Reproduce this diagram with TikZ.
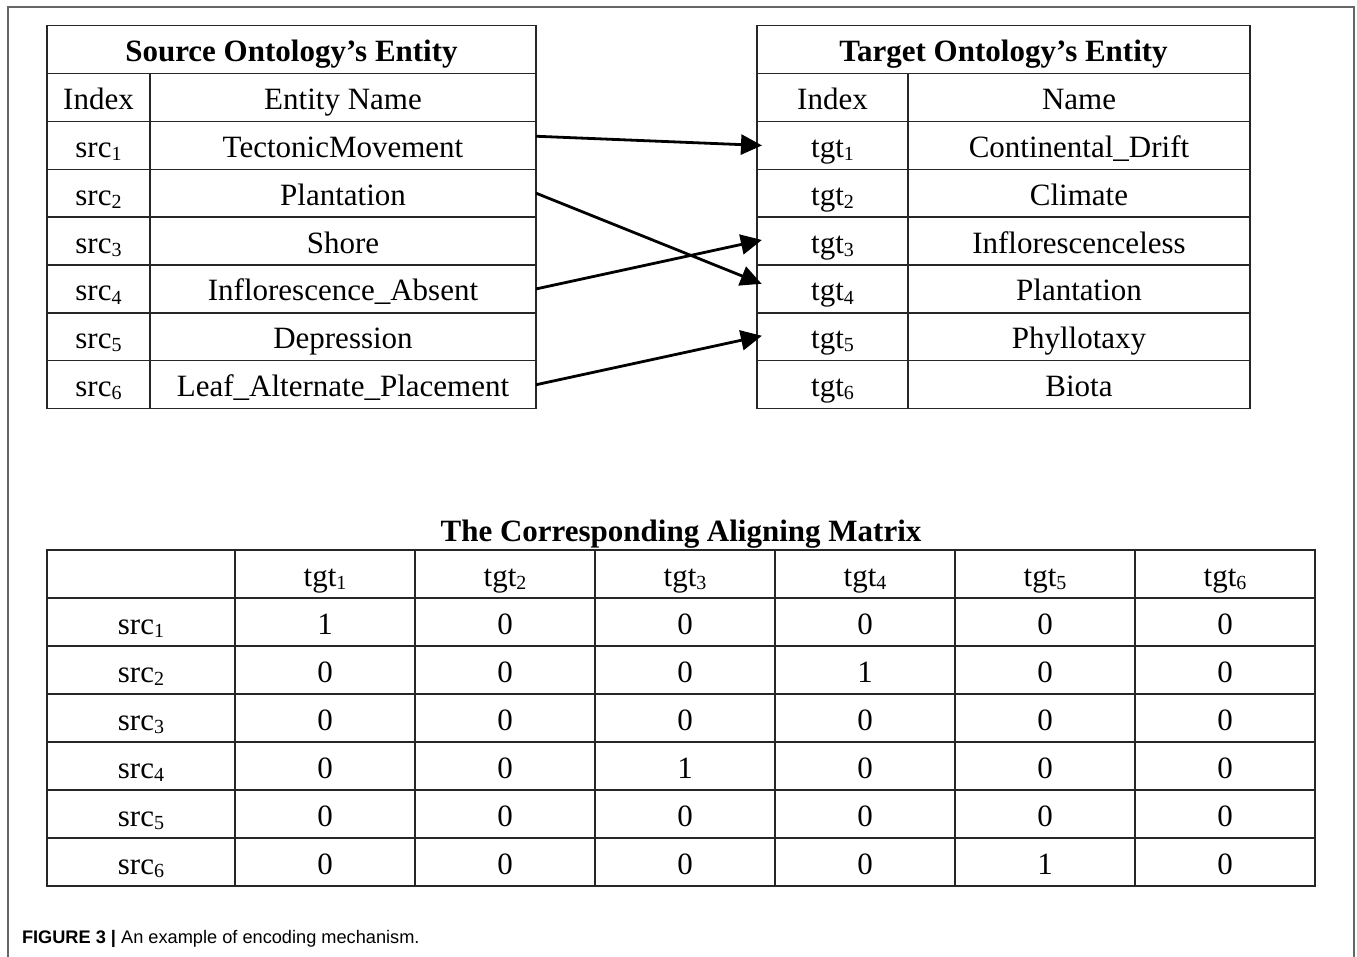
\documentclass[tikz,border=0pt]{standalone}
\usepackage{fontspec}
\setmainfont{Liberation Serif}
\newfontfamily\capfont{Liberation Sans}
\usetikzlibrary{arrows.meta}
\newcommand{\ix}[2]{#1\raisebox{-0.1em}{\fontsize{20}{20}\selectfont #2}}

\begin{document}
\begin{tikzpicture}[
        x=1pt, y=-1pt,                % pixel grid, y downwards
        every node/.style={
            inner sep=0pt,
            outer sep=0pt,
            font=\fontsize{31}{36}\selectfont,
            text height=28pt,
            text depth=4pt
        },
        cell/.style={draw=black!85, line width=1.3pt, minimum height=47.9pt},
        srchead/.style={cell, minimum width=489pt, font=\fontsize{31}{36}\selectfont\bfseries},
        tgthead/.style={cell, minimum width=493pt, font=\fontsize{31}{36}\selectfont\bfseries},
        srcidx/.style={cell, minimum width=103pt},
        srcname/.style={cell, minimum width=386pt},
        tgtidx/.style={cell, minimum width=151pt},
        tgtname/.style={cell, minimum width=342pt},
        rowhead/.style={cell, minimum width=188pt, minimum height=48pt},
        mcell/.style={cell, minimum width=180pt, minimum height=48pt},
        arrow/.style={-{Triangle[length=21pt,width=20pt]}, line width=2.8pt, shorten >=-5pt}
    ]
    \useasboundingbox (0,0) rectangle (1357,957);

    % frame
    \draw[black!60, line width=1.5pt] (8,957) -- (8,7) -- (1354,7) -- (1354,957);

    % source ontology
    \node[srchead] (shead) at (291.5,49.45) {Source Ontology's Entity};
    \node[srcidx] (sidx) at (98.5,97.35) {Index};
    \node[srcname] (sname) at (343,97.35) {Entity Name};
    \node[srcidx] (si1) at (98.5,145.25) {\ix{src}{1}};
    \node[srcname] (s1) at (343,145.25) {TectonicMovement};
    \node[srcidx] (si2) at (98.5,193.15) {\ix{src}{2}};
    \node[srcname] (s2) at (343,193.15) {Plantation};
    \node[srcidx] (si3) at (98.5,241.05) {\ix{src}{3}};
    \node[srcname] (s3) at (343,241.05) {Shore};
    \node[srcidx] (si4) at (98.5,288.95) {\ix{src}{4}};
    \node[srcname] (s4) at (343,288.95) {Inflorescence\_Absent};
    \node[srcidx] (si5) at (98.5,336.85) {\ix{src}{5}};
    \node[srcname] (s5) at (343,336.85) {Depression};
    \node[srcidx] (si6) at (98.5,384.75) {\ix{src}{6}};
    \node[srcname] (s6) at (343,384.75) {Leaf\_Alternate\_Placement};

    % target ontology
    \node[tgthead] (thead) at (1003.5,49.45) {Target Ontology's Entity};
    \node[tgtidx] (tidx) at (832.5,97.35) {Index};
    \node[tgtname] (tname) at (1079,97.35) {Name};
    \node[tgtidx] (ti1) at (832.5,145.25) {\ix{tgt}{1}};
    \node[tgtname] (t1) at (1079,145.25) {Continental\_Drift};
    \node[tgtidx] (ti2) at (832.5,193.15) {\ix{tgt}{2}};
    \node[tgtname] (t2) at (1079,193.15) {Climate};
    \node[tgtidx] (ti3) at (832.5,241.05) {\ix{tgt}{3}};
    \node[tgtname] (t3) at (1079,241.05) {Inflorescenceless};
    \node[tgtidx] (ti4) at (832.5,288.95) {\ix{tgt}{4}};
    \node[tgtname] (t4) at (1079,288.95) {Plantation};
    \node[tgtidx] (ti5) at (832.5,336.85) {\ix{tgt}{5}};
    \node[tgtname] (t5) at (1079,336.85) {Phyllotaxy};
    \node[tgtidx] (ti6) at (832.5,384.75) {\ix{tgt}{6}};
    \node[tgtname] (t6) at (1079,384.75) {Biota};

    % matches
    \draw[arrow] ([yshift=9pt]s1.east) -- (ti1.west);
    \draw[arrow] (s2.east) -- ([yshift=7pt]ti4.west);
    \draw[arrow] (s4.east) -- (ti3.west);
    \draw[arrow] (s6.east) -- (ti5.west);

    % aligning matrix
    \node[font=\fontsize{31}{36}\selectfont\bfseries] (mtitle) at (681,529) {The Corresponding Aligning Matrix};
    \node[rowhead] (corner) at (141,574) {};
    \foreach \j in {1,...,6}
        \node[mcell] (h\j) at ({235+180*(\j-0.5)},574) {\ix{tgt}{\j}};
    \foreach \r/\vals in {1/{1,0,0,0,0,0}, 2/{0,0,0,1,0,0}, 3/{0,0,0,0,0,0},
                          4/{0,0,1,0,0,0}, 5/{0,0,0,0,0,0}, 6/{0,0,0,0,1,0}} {
        \node[rowhead] (r\r) at (141,{550+48*(\r+0.5)}) {\ix{src}{\r}};
        \foreach \v [count=\j] in \vals
            \node[mcell] (m\r\j) at ({235+180*(\j-0.5)},{550+48*(\r+0.5)}) {\v};
    }

    % caption
    \node[anchor=base west, font=\capfont\fontsize{18.2}{22}\selectfont] (cap) at (22,943)
        {\textbf{FIGURE 3 |} An example of encoding mechanism.};
\end{tikzpicture}
\end{document}
